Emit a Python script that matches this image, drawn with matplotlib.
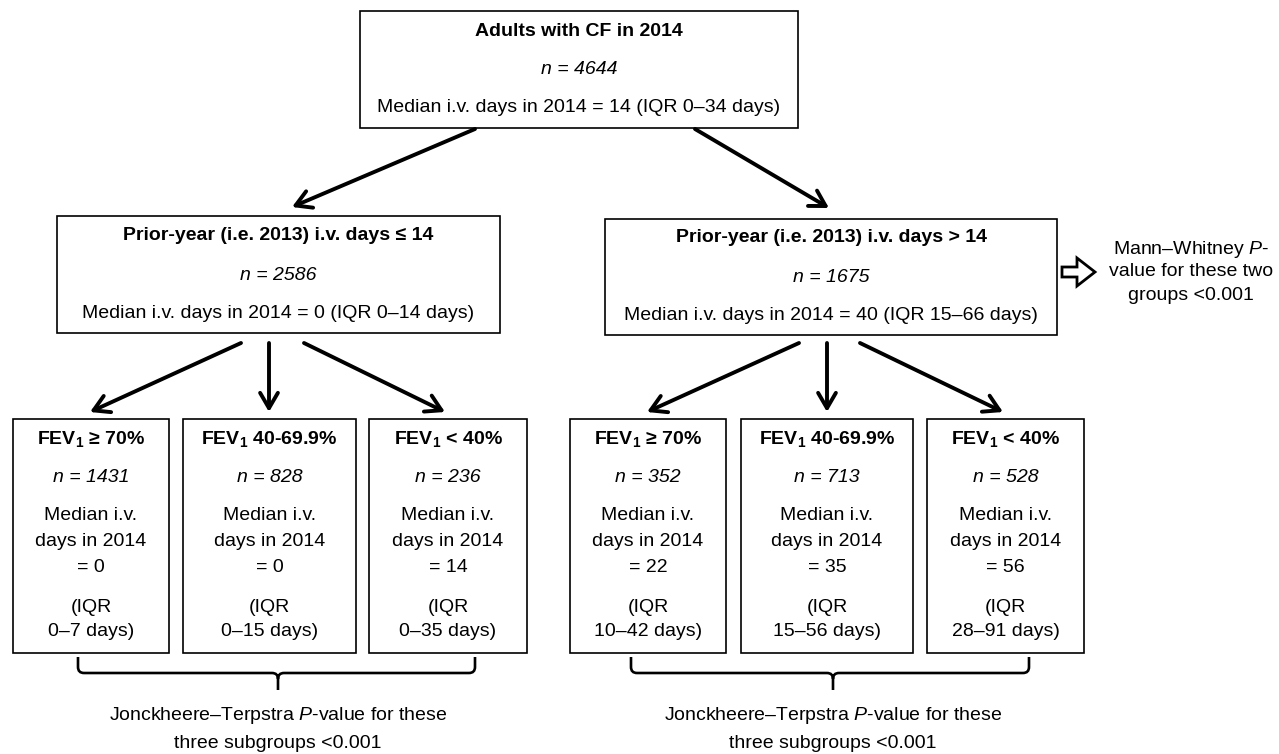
import matplotlib
matplotlib.use('Agg')
import matplotlib.pyplot as plt
from matplotlib.patches import Rectangle, Polygon, PathPatch
from matplotlib.path import Path

plt.rcParams['font.family'] = ['Liberation Sans', 'DejaVu Sans']
plt.rcParams['mathtext.fontset'] = 'custom'
plt.rcParams['mathtext.rm'] = 'Liberation Sans'
plt.rcParams['mathtext.it'] = 'Liberation Sans:italic'
plt.rcParams['mathtext.bf'] = 'Liberation Sans:bold'

total_n = 4644
total_median = 14
total_iqr = (0, 34)

prior_labels = ['\u2264 14', '> 14']
prior_n = [2586, 1675]
prior_median = [0, 40]
prior_iqr = [(0, 14), (15, 66)]

fev_labels = ['\u2265 70%', '40-69.9%', '< 40%']
fev_n = [[1431, 828, 236], [352, 713, 528]]
fev_median = [[0, 0, 14], [22, 35, 56]]
fev_iqr = [[(0, 7), (0, 15), (0, 35)], [(10, 42), (15, 56), (28, 91)]]

# ---- layout (pixel coords, y down) ----
FS = 14
top_box = (360, 11, 798, 128)
mid_boxes = [(57, 216, 500, 333), (605, 219, 1057, 335)]
bot_x = [[(13, 169), (183, 356), (369, 527)],
         [(570, 726), (741, 913), (927, 1084)]]
bot_y = (419, 653)
bot_rows = [439, 478, 516, 542, 568, 607, 632]

top_arrows = [((475, 129), (292, 207)), ((695, 129), (829, 208))]
bot_arrows = [[((241, 343), (90, 412)), ((269, 343), (269, 412)), ((304, 343), (445, 412))],
              [((799, 343), (647, 412)), ((827, 343), (827, 412)), ((860, 343), (1003, 412))]]
braces = [(78, 475, 278), (631, 1029, 833)]

fig = plt.figure(figsize=(12.79, 7.54), dpi=100)
ax = fig.add_axes([0, 0, 1, 1])
ax.set_xlim(0, 1279)
ax.set_ylim(754, 0)
ax.axis('off')


def box(x0, y0, x1, y1):
    ax.add_patch(Rectangle((x0, y0), x1 - x0, y1 - y0, fill=False,
                           edgecolor='black', lw=1.2))


def txt(x, y, s, **kw):
    ax.text(x, y, s, ha='center', va='center', fontsize=FS, color='black', **kw)


def arrow(p0, p1):
    ax.annotate('', xy=p1, xytext=p0,
                arrowprops=dict(arrowstyle='->,head_length=0.55,head_width=0.32',
                                lw=2.8, color='black', shrinkA=0, shrinkB=0,
                                mutation_scale=20))


# top box
box(*top_box)
cx = (top_box[0] + top_box[2]) / 2
txt(cx, 32, 'Adults with CF in 2014', fontweight='bold')
txt(cx, 70, f'n = {total_n}', fontstyle='italic')
txt(cx, 108, f'Median i.v. days in 2014 = {total_median} (IQR {total_iqr[0]}\u2013{total_iqr[1]} days)')
for a, b in top_arrows:
    arrow(a, b)

# prior-year boxes
for i, (x0, y0, x1, y1) in enumerate(mid_boxes):
    box(x0, y0, x1, y1)
    cx = (x0 + x1) / 2
    txt(cx, y0 + 19, f'Prior-year (i.e. 2013) i.v. days {prior_labels[i]}', fontweight='bold')
    txt(cx, y0 + 59, f'n = {prior_n[i]}', fontstyle='italic')
    txt(cx, y0 + 97, f'Median i.v. days in 2014 = {prior_median[i]} '
                     f'(IQR {prior_iqr[i][0]}\u2013{prior_iqr[i][1]} days)')

# FEV1 subgroup boxes
for g in range(2):
    for a, b in bot_arrows[g]:
        arrow(a, b)
    for j, (x0, x1) in enumerate(bot_x[g]):
        box(x0, bot_y[0], x1, bot_y[1])
        cx = (x0 + x1) / 2
        lo, hi = fev_iqr[g][j]
        lines = [('FEV$_\\mathbf{1}$ ' + fev_labels[j], 'bold', 'normal'),
                 (f'n = {fev_n[g][j]}', 'normal', 'italic'),
                 ('Median i.v.', 'normal', 'normal'),
                 ('days in 2014', 'normal', 'normal'),
                 (f'= {fev_median[g][j]}', 'normal', 'normal'),
                 ('(IQR', 'normal', 'normal'),
                 (f'{lo}\u2013{hi} days)', 'normal', 'normal')]
        for y, (s, w, st) in zip(bot_rows, lines):
            txt(cx, y, s, fontweight=w, fontstyle=st)

# braces under each triple
y0, yh, yt, r = 657, 673, 690, 6
for xl, xr, xc in braces:
    verts = [(xl, y0), (xl, yh - r), (xl, yh), (xl + r, yh), (xc - r, yh), (xc, yh), (xc, yh + r),
             (xc, yt),
             (xc, yh + r), (xc, yh), (xc + r, yh), (xr - r, yh), (xr, yh), (xr, yh - r), (xr, y0)]
    codes = [Path.MOVETO, Path.LINETO, Path.CURVE3, Path.CURVE3, Path.LINETO, Path.CURVE3, Path.CURVE3,
             Path.LINETO,
             Path.MOVETO, Path.CURVE3, Path.CURVE3, Path.LINETO, Path.CURVE3, Path.CURVE3, Path.LINETO]
    ax.add_patch(PathPatch(Path(verts, codes), fill=False, lw=1.9, edgecolor='black'))
    txt(xc, 716, 'Jonckheere\u2013Terpstra $P$-value for these')
    txt(xc, 743, 'three subgroups <0.001')

# hollow arrow + Mann-Whitney note
cy = 272
ax.add_patch(Polygon([(1062, cy - 5), (1077, cy - 5), (1077, cy - 14), (1095, cy),
                      (1077, cy + 14), (1077, cy + 5), (1062, cy + 5)],
                     closed=True, facecolor='white', edgecolor='black', lw=2))
txt(1191, 249, 'Mann\u2013Whitney $P$-')
txt(1191, 272, 'value for these two')
txt(1191, 295, 'groups <0.001')

fig.savefig('out.png', dpi=100)
